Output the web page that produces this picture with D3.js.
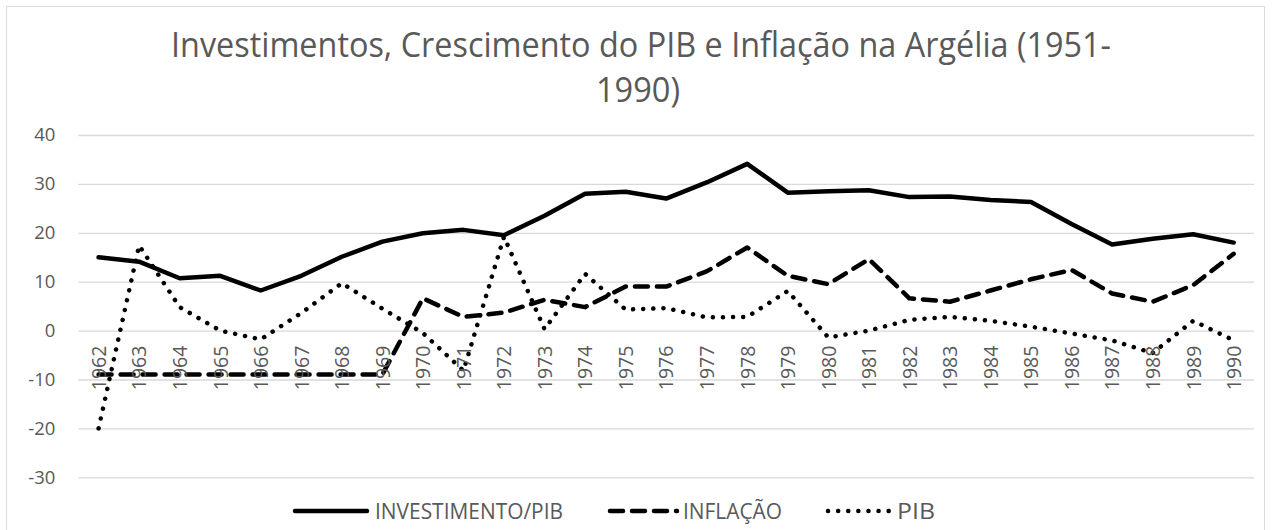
<!DOCTYPE html>
<html lang="pt">
<head>
    <meta charset="UTF-8">
    <title>Investimentos, Crescimento do PIB e Inflação na Argélia</title>
    <script src="https://d3js.org/d3.v7.min.js"></script>
    <style>
        body { margin: 0; background: #fff; }
        svg { display: block; font-family: "Open Sans", sans-serif; }
    </style>
</head>
<body>
    <svg></svg>

    <script>
const anos = d3.range(1962, 1991).map(String);

const investimento = [15.0, 14.1, 10.7, 11.2, 8.2, 11.2, 15.1, 18.2, 19.9,
    20.6, 19.5, 23.5, 28.0, 28.4, 27.0, 30.3, 34.1, 28.2, 28.5,
    28.7, 27.3, 27.4, 26.7, 26.3, 21.8, 17.6, 18.8, 19.7, 18.0];

const inflacao = [-9, -9, -9, -9, -9, -9, -9, -9, 6.6,
    2.8, 3.7, 6.3, 4.8, 9.0, 9.0, 12.1, 17.0, 11.2, 9.5,
    14.6, 6.6, 5.9, 8.2, 10.5, 12.4, 7.6, 5.9, 9.3, 15.7];

const pib = [-20, 17.4, 4.8, 0, -1.8, 3.6, 9.7, 4.5, -0.5,
    -8.2, 19.2, 0.3, 11.6, 4.3, 4.6, 2.7, 2.8, 8.1, -1.4,
    0.0, 2.2, 2.8, 2.0, 0.8, -0.6, -2.0, -4.6, 2.0, -2.0];

const yTicks = [-30, -20, -10, 0, 10, 20, 30, 40];

const series = [
    { nome: "INVESTIMENTO/PIB", valores: investimento, dash: null },
    { nome: "INFLAÇÃO", valores: inflacao, dash: "13,9" },
    { nome: "PIB", valores: pib, dash: "0.1,10" }
];

const width = 1282, height = 530;
const cinza = "#595959";

const svg = d3.select("svg")
    .attr("width", width)
    .attr("height", height);

// moldura do gráfico
svg.append("rect")
    .attr("x", 6.5).attr("y", 6.5)
    .attr("width", 1258).attr("height", 540)
    .attr("fill", "none")
    .attr("stroke", "#d9d9d9");

const x = d3.scalePoint()
    .domain(anos)
    .range([78.3, 1254])
    .padding(0.5);

const y = d3.scaleLinear()
    .domain([-30, 40])
    .range([477.3, 135]);

// titulo
svg.append("text")
    .attr("x", 641).attr("y", 57)
    .attr("text-anchor", "middle")
    .attr("fill", cinza)
    .attr("font-size", 34)
    .attr("textLength", 940)
    .attr("lengthAdjust", "spacingAndGlyphs")
    .text("Investimentos, Crescimento do PIB e Inflação na Argélia (1951-");
svg.append("text")
    .attr("x", 638).attr("y", 102)
    .attr("text-anchor", "middle")
    .attr("fill", cinza)
    .attr("font-size", 34)
    .attr("textLength", 84)
    .attr("lengthAdjust", "spacingAndGlyphs")
    .text("1990)");

// grade e eixo y
const yAxis = svg.append("g")
    .attr("transform", "translate(78.3,0)")
    .call(d3.axisLeft(y).tickValues(yTicks).tickFormat(d => String(d))
        .tickSize(-(1254 - 78.3)).tickPadding(23));
yAxis.select(".domain").remove();
yAxis.selectAll(".tick line").attr("stroke", "#d9d9d9").attr("stroke-width", 1.3);
yAxis.selectAll(".tick text")
    .attr("fill", cinza)
    .attr("font-size", 18.5)
    .attr("font-family", "Open Sans, sans-serif");

// linhas
const linha = d3.line()
    .x((d, i) => x(anos[i]))
    .y(d => y(d));

series.forEach(s => {
    svg.append("path")
        .datum(s.valores)
        .attr("d", linha)
        .attr("fill", "none")
        .attr("stroke", "#000")
        .attr("stroke-width", 4.5)
        .attr("stroke-linejoin", "round")
        .attr("stroke-linecap", "round")
        .attr("stroke-dasharray", s.dash);
});

// rotulos das categorias, junto ao eixo em 0
const xAxis = svg.append("g")
    .attr("transform", `translate(0,${y(0)})`)
    .call(d3.axisBottom(x).tickSize(0).tickPadding(0));
xAxis.select(".domain").remove();
xAxis.selectAll(".tick text")
    .attr("fill", cinza)
    .attr("font-size", 19.5)
    .attr("font-family", "Open Sans, sans-serif")
    .attr("text-anchor", "end")
    .attr("transform", "rotate(-90)")
    .attr("x", -15)
    .attr("y", 0)
    .attr("dy", "0.35em");

// legenda
const legenda = [
    { x1: 295, x2: 367, tx: 375, tl: 188 },
    { x1: 610, x2: 677, tx: 683, tl: 99 },
    { x1: 828, x2: 892, tx: 897, tl: 38 }
];
series.forEach((s, i) => {
    const p = legenda[i];
    svg.append("line")
        .attr("x1", p.x1).attr("x2", p.x2)
        .attr("y1", 511).attr("y2", 511)
        .attr("stroke", "#000")
        .attr("stroke-width", 4.5)
        .attr("stroke-linecap", "round")
        .attr("stroke-dasharray", s.dash);
    svg.append("text")
        .attr("x", p.tx).attr("y", 518.5)
        .attr("fill", cinza)
        .attr("font-size", 21)
        .attr("textLength", p.tl)
        .attr("lengthAdjust", "spacingAndGlyphs")
        .text(s.nome);
});
    </script>
</body>
</html>
